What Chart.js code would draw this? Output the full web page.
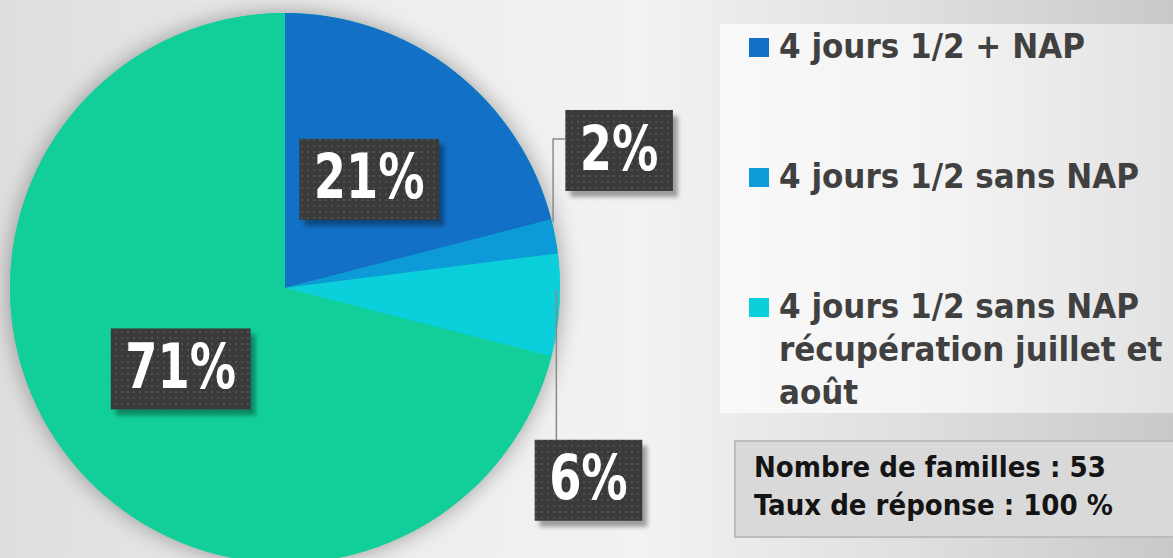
<!DOCTYPE html>
<html>
<head>
<meta charset="utf-8">
<script src="https://cdn.jsdelivr.net/npm/chart.js@4/dist/chart.umd.min.js"></script>
<style>
  html, body { margin: 0; padding: 0; }
  body {
    width: 1173px; height: 558px; overflow: hidden; position: relative;
    background: linear-gradient(to right, #dedede 0%, #eeeeee 35%, #f2f2f2 55%, #dddddd 80%, #c9c9c9 100%);
    font-family: "DejaVu Sans Condensed", "DejaVu Sans", sans-serif;
  }
  #wrap { position: absolute; left: 0; top: 0; width: 700px; height: 600px; }
  #panel {
    position: absolute; left: 720px; top: 24px; width: 453px; height: 389px;
    background: linear-gradient(to right, #f9f9f9 0%, #f3f3f3 50%, #e2e2e2 100%);
  }
  .item { position: absolute; left: 749px; color: #404040; font-weight: bold; font-size: 34.5px; line-height: 43px; }
  .item .sq { position: absolute; left: 0; top: 11px; width: 20px; height: 19px; }
  .item .txt { position: absolute; left: 30px; top: -2px; width: 420px; white-space: pre-line; }
  #info {
    position: absolute; left: 734px; top: 440px; width: 460px; height: 98px;
    background: #d9d9d9; border: 2px solid #bdbdbd; box-sizing: border-box;
    color: #141414; font-weight: bold; font-size: 29px; line-height: 38px;
    padding: 6px 0 0 18px;
  }
</style>
</head>
<body>
<div id="panel"></div>
<div id="wrap"><canvas id="pie"></canvas></div>
<div id="legend"></div>
<div id="info"></div>
<script>
const categories = [
  "4 jours 1/2 + NAP",
  "4 jours 1/2 sans NAP",
  "4 jours 1/2 sans NAP\nrécupération juillet et\naoût",
  "Autre"
];
const shares = [21, 2, 6, 71];
const colors = ["#1270c6", "#0c9bd8", "#0bd0dc", "#12cf99"];
const infoLines = ["Nombre de familles : 53", "Taux de réponse : 100 %"];

// where each percentage box goes: inside the slice or outside with a leader
const labelPlace = [
  { mode: "in", r: 0.5 },
  { mode: "out", dx: 64, dy: -86 },
  { mode: "out", dx: 29, dy: 175 },
  { mode: "in", r: 0.48 }
];

// dotted dark fill of the label boxes
const patCanvas = document.createElement("canvas");
patCanvas.width = 6; patCanvas.height = 6;
const pctx = patCanvas.getContext("2d");
pctx.fillStyle = "#3a3a3a"; pctx.fillRect(0, 0, 6, 6);
pctx.fillStyle = "#505050"; pctx.fillRect(1, 1, 2, 2);

const pieShadow = {
  id: "pieShadow",
  beforeDatasetsDraw(chart) {
    const arc = chart.getDatasetMeta(0).data[0];
    const c = chart.ctx;
    c.save();
    c.shadowColor = "rgba(0,0,0,0.35)";
    c.shadowBlur = 22;
    c.fillStyle = colors[3];
    c.beginPath();
    c.arc(arc.x, arc.y, arc.outerRadius, 0, Math.PI * 2);
    c.fill();
    c.restore();
  }
};

const boxLabels = {
  id: "boxLabels",
  afterDatasetsDraw(chart) {
    const c = chart.ctx;
    const pattern = c.createPattern(patCanvas, "repeat");
    const squeeze = 0.83;
    chart.getDatasetMeta(0).data.forEach((arc, i) => {
      const mid = (arc.startAngle + arc.endAngle) / 2;
      const R = arc.outerRadius;
      const p = labelPlace[i];
      let cx, cy;
      if (p.mode === "in") {
        cx = arc.x + Math.cos(mid) * R * p.r;
        cy = arc.y + Math.sin(mid) * R * p.r;
      } else {
        const ex = arc.x + Math.cos(mid) * R;
        const ey = arc.y + Math.sin(mid) * R;
        cx = ex + p.dx; cy = ey + p.dy;
      }
      const txt = shares[i] + "%";
      c.font = "bold 62px 'DejaVu Sans Condensed', 'DejaVu Sans', sans-serif";
      const w = c.measureText(txt).width * squeeze + 29;
      const h = 81;
      const x0 = cx - w / 2, y0 = cy - h / 2;

      if (p.mode === "out") {
        const ex = arc.x + Math.cos(mid) * R * 0.985;
        const ey = arc.y + Math.sin(mid) * R * 0.985;
        c.save();
        c.strokeStyle = "#8a8a8a";
        c.lineWidth = 1.5;
        c.beginPath();
        if (p.dy < 0) {
          c.moveTo(ex + 2, ey - 15);
          c.lineTo(ex + 2, y0 + 29);
          c.lineTo(x0, y0 + 29);
        } else {
          c.moveTo(ex + 1, ey - 15);
          c.lineTo(ex + 1, y0);
        }
        c.stroke();
        c.restore();
      }

      c.save();
      c.shadowColor = "rgba(0,0,0,0.35)";
      c.shadowOffsetX = 5; c.shadowOffsetY = 6; c.shadowBlur = 4;
      c.fillStyle = pattern;
      c.fillRect(x0, y0, w, h);
      c.restore();

      c.save();
      c.translate(cx, cy + 3);
      c.scale(squeeze, 1);
      c.fillStyle = "#ffffff";
      c.textAlign = "center";
      c.textBaseline = "middle";
      c.fillText(txt, 0, 0);
      c.restore();
    });
  }
};

new Chart(document.getElementById("pie"), {
  type: "pie",
  data: {
    labels: categories,
    datasets: [{ data: shares, backgroundColor: colors, borderWidth: 0 }]
  },
  options: {
    responsive: true,
    maintainAspectRatio: false,
    animation: false,
    layout: { padding: { left: 10, top: 13, right: 140, bottom: 37 } },
    plugins: { legend: { display: false }, tooltip: { enabled: false } }
  },
  plugins: [pieShadow, boxLabels]
});

// legend, first three categories
const legend = document.getElementById("legend");
categories.slice(0, 3).forEach((name, i) => {
  const item = document.createElement("div");
  item.className = "item";
  item.style.top = (27 + i * 130) + "px";
  item.innerHTML = `<div class="sq" style="background:${colors[i]}"></div><div class="txt"></div>`;
  item.querySelector(".txt").textContent = name;
  legend.appendChild(item);
});

document.getElementById("info").innerHTML = infoLines.join("<br>");
</script>
</body>
</html>
